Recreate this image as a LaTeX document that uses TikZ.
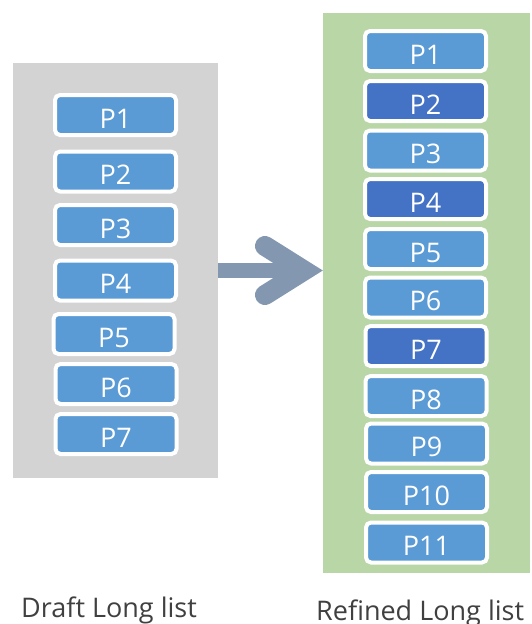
\documentclass[tikz,border=0pt]{standalone}
\usepackage{fontspec}
\setmainfont{Open Sans}
\usetikzlibrary{positioning}

\definecolor{listgray}{HTML}{D3D3D3}
\definecolor{listgreen}{HTML}{B8D6A6}
\definecolor{plight}{HTML}{5B9BD5}
\definecolor{pdark}{HTML}{4472C4}
\definecolor{arrowblue}{HTML}{8497B0}
\definecolor{labelgray}{HTML}{404040}

\tikzset{
pbox/.style={draw=white, line width=4pt, rounded corners=5pt, fill=plight,
  minimum width=121pt, minimum height=40pt, inner sep=0pt, text=white,
  text height=26pt, text depth=0pt, font=\fontsize{27}{27}\selectfont},
pdarkbox/.style={pbox, fill=pdark},
listlabel/.style={inner sep=0pt, anchor=base west, text=labelgray, font=\fontsize{27}{27}\selectfont}
}

\begin{document}
\begin{tikzpicture}[x=1pt, y=-1pt]
\useasboundingbox (0,0) rectangle (532,624);

% the two lists
\node (draft) [fill=listgray, minimum width=205pt, minimum height=415pt, inner sep=0pt] at (115.5,270.5) {};
\node (refined) [fill=listgreen, minimum width=207pt, minimum height=560pt, inner sep=0pt] at (426.5,293) {};

% draft long list
\node (d1) [pbox] at (115.5,115) {P1};
\node (d2) [pbox] at (115.5,171.5) {P2};
\node (d3) [pbox] at (115.5,225) {P3};
\node (d4) [pbox] at (115.5,280.5) {P4};
\node (d5) [pbox] at (114,334) {P5};
\node (d6) [pbox] at (116,384) {P6};
\node (d7) [pbox] at (116,434) {P7};

% refined long list
\node (r1) [pbox] at (425.5,51) {P1};
\node (r2) [pdarkbox] at (425.5,101) {P2};
\node (r3) [pbox] at (425.5,150.5) {P3};
\node (r4) [pdarkbox] at (425.5,199) {P4};
\node (r5) [pbox] at (425.5,249) {P5};
\node (r6) [pbox] at (425.5,297.5) {P6};
\node (r7) [pdarkbox] at (426,346) {P7};
\node (r8) [pbox] at (426,396) {P8};
\node (r9) [pbox] at (426.5,443.5) {P9};
\node (r10) [pbox] at (426.5,492) {P10};
\node (r11) [pbox] at (426.5,542.5) {P11};

%
\coordinate (tip) at (304,270.5);
\coordinate (barbA) at (265,246);
\coordinate (barbB) at (265,295);

\draw[arrowblue, line width=15pt] (draft.east) -- (tip);
\draw[arrowblue, line width=20pt, line cap=round, line join=miter] (barbA) -- (tip) -- (barbB);

\node (draftlabel) [listlabel] at (21,617) {Draft Long list};
\node (refinedlabel) [listlabel] at (316,620) {Refined Long list};

\end{tikzpicture}
\end{document}
